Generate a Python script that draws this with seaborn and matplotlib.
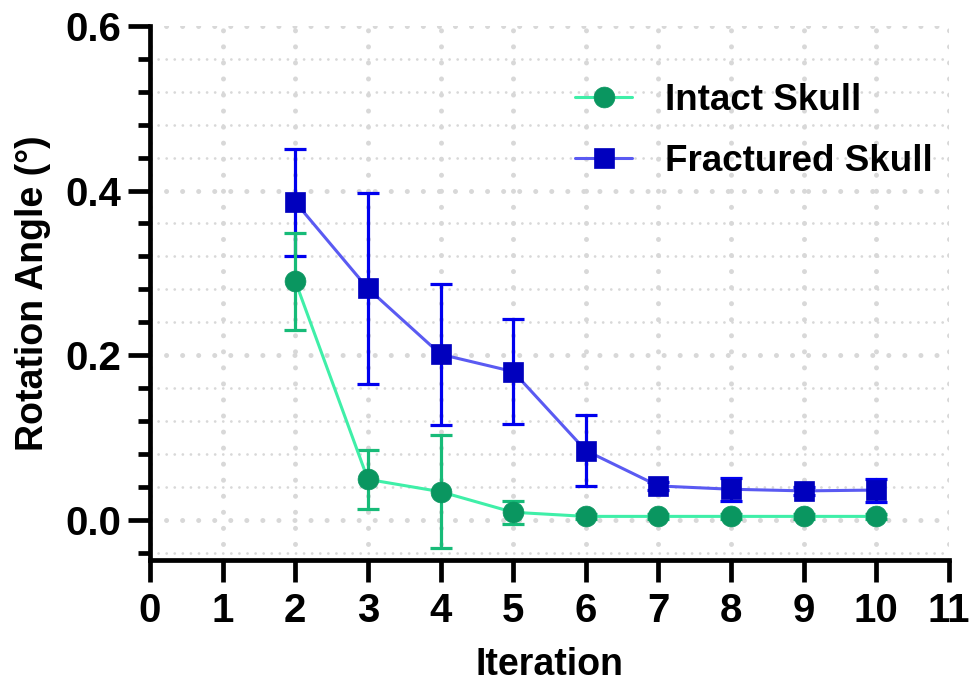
import numpy as np
import pandas as pd
import matplotlib
matplotlib.use("Agg")
import matplotlib.pyplot as plt
from matplotlib.ticker import MultipleLocator, FixedLocator
import seaborn as sns

# ---- data ----
iterations = [2, 3, 4, 5, 6, 7, 8, 9, 10]
intact_mean = [0.290, 0.049, 0.034, 0.009, 0.004, 0.004, 0.004, 0.004, 0.004]
intact_sd = [0.059, 0.036, 0.069, 0.014, 0.003, 0.003, 0.003, 0.003, 0.003]
fractured_mean = [0.386, 0.281, 0.201, 0.180, 0.084, 0.041, 0.037, 0.035, 0.036]
fractured_sd = [0.065, 0.116, 0.086, 0.064, 0.043, 0.005, 0.014, 0.005, 0.014]
series_names = ["Intact Skull", "Fractured Skull"]
x_ticks = list(range(0, 12))
y_ticks = [0.0, 0.2, 0.4, 0.6]

df = pd.DataFrame({
    "Iteration": iterations * 2,
    "Angle": intact_mean + fractured_mean,
    "SD": intact_sd + fractured_sd,
    "Group": [series_names[0]] * len(iterations) + [series_names[1]] * len(iterations),
})

sns.set_style("white")
plt.rcParams["font.family"] = ["Liberation Sans", "DejaVu Sans"]
plt.rcParams["font.weight"] = "bold"
plt.rcParams["text.color"] = "black"
plt.rcParams["axes.labelcolor"] = "black"
plt.rcParams["xtick.color"] = "black"
plt.rcParams["ytick.color"] = "black"

fig = plt.figure(figsize=(9.74, 6.89), dpi=100)
ax = fig.add_axes([150 / 974, 1 - 560 / 689, (949 - 150) / 974, (560 - 26) / 689])

styles = {
    "Intact Skull": dict(line="#3FEFA8", face="#0A9660", err="#17BB78", marker="o"),
    "Fractured Skull": dict(line="#5A5AF2", face="#0000BE", err="#0000EE", marker="s"),
}

# error bars first (fractured underneath intact)
for name in ["Fractured Skull", "Intact Skull"]:
    sub = df[df["Group"] == name]
    st = styles[name]
    ax.errorbar(sub["Iteration"], sub["Angle"], yerr=sub["SD"], fmt="none",
                ecolor=st["err"], elinewidth=2.3, capsize=7.8, capthick=2.3, zorder=3)

for name in series_names:
    sub = df[df["Group"] == name]
    st = styles[name]
    sns.lineplot(data=sub, x="Iteration", y="Angle", ax=ax, color=st["line"],
                 linewidth=2.2, marker=st["marker"], markersize=15,
                 markerfacecolor=st["face"], markeredgecolor=st["face"],
                 markeredgewidth=0.5, label=name, zorder=4, errorbar=None)

ax.set_xlim(0, 11)
ax.set_ylim(-0.049, 0.6)
ax.xaxis.set_major_locator(FixedLocator(x_ticks))
ax.yaxis.set_major_locator(FixedLocator(y_ticks))
ax.yaxis.set_minor_locator(MultipleLocator(0.04))
ax.set_xticklabels([str(t) for t in x_ticks])
ax.set_yticklabels([f"{t:.1f}" for t in y_ticks])

for s in ["top", "right"]:
    ax.spines[s].set_visible(False)
for s in ["left", "bottom"]:
    ax.spines[s].set_linewidth(3.4)
    ax.spines[s].set_color("black")
    ax.spines[s].set_capstyle("projecting")

ax.tick_params(axis="both", which="major", direction="out", length=16, width=3.4,
               color="black", labelsize=29, pad=5, bottom=True, left=True)
ax.tick_params(axis="y", which="minor", direction="out", length=9, width=3.4,
               color="black", left=True)
ax.tick_params(axis="x", which="major", pad=7)
for lab in ax.get_xticklabels() + ax.get_yticklabels():
    lab.set_fontweight("bold")

# dotted grid
ax.grid(which="major", axis="both", color="#d8d8d8", linewidth=3.6,
        linestyle=(0, (0.01, 3.2)), dash_capstyle="round", zorder=0)
ax.grid(which="minor", axis="y", color="#d8d8d8", linewidth=2.0,
        linestyle=(0, (0.01, 2.9)), dash_capstyle="round", zorder=0)
for gl in ax.get_xgridlines() + ax.get_ygridlines():
    gl.set_dash_capstyle("round")
ax.set_axisbelow(True)

ax.set_xlabel("Iteration", fontsize=27, fontweight="bold", labelpad=12)
ax.set_ylabel("Rotation Angle (°)", fontsize=27, fontweight="bold", labelpad=10)

leg = ax.legend(loc="center left", bbox_to_anchor=(575 / 974, 1 - 131 / 689),
                bbox_transform=fig.transFigure, frameon=False, fontsize=26.5,
                handlelength=1.55, handletextpad=0.9, labelspacing=0.72,
                borderpad=0, borderaxespad=0)
for t in leg.get_texts():
    t.set_fontweight("bold")

fig.savefig("out.png", dpi=100)
